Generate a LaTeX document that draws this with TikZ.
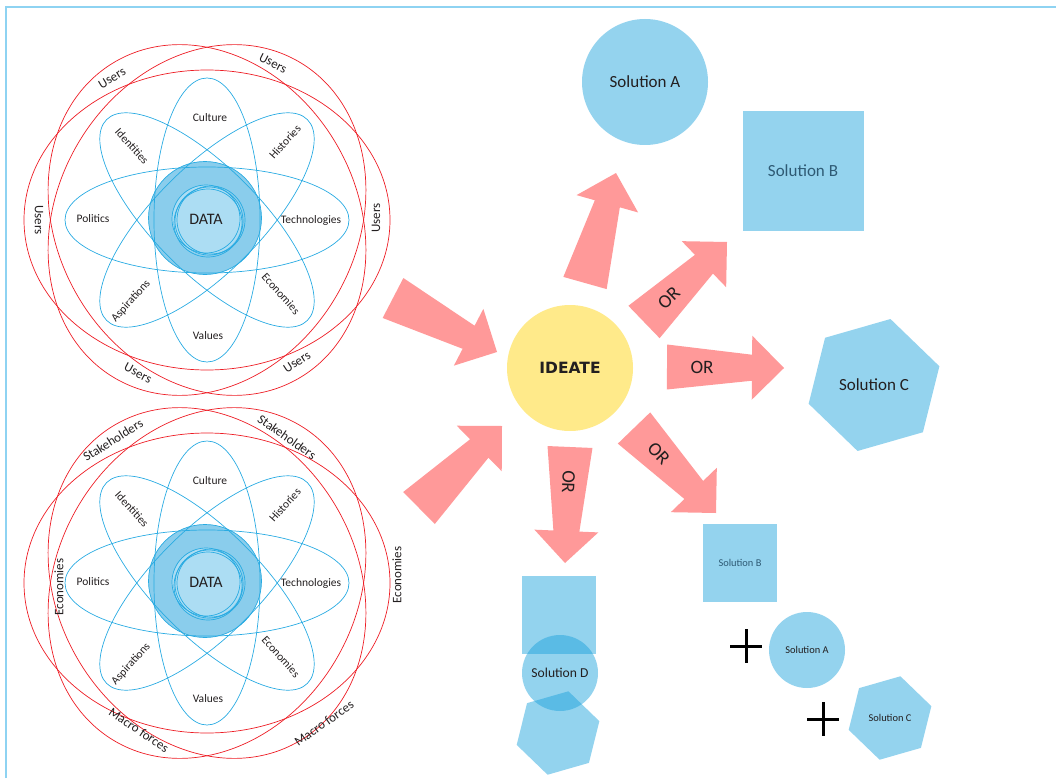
\documentclass[tikz,border=0pt]{standalone}
\usepackage{fontspec}
\setmainfont{Carlito}
\newfontfamily\ideatefont{DejaVu Sans}
\usetikzlibrary{calc,shapes.geometric}

\definecolor{ringred}{HTML}{ED1C24}
\definecolor{petalblue}{HTML}{29ABE2}
\definecolor{diskblue}{HTML}{8ACDEC}
\definecolor{coreblue}{HTML}{ACDDF3}
\definecolor{solblue}{HTML}{94D3EE}
\definecolor{mixblue}{HTML}{1AA1DB}
\definecolor{soltext}{HTML}{2E5A74}
\definecolor{arrowpink}{HTML}{FF9999}
\definecolor{ideateyellow}{HTML}{FFEA8A}
\definecolor{frameblue}{HTML}{8ED3F2}
\definecolor{inkblack}{HTML}{231F20}

\tikzset{
  frame/.style={draw=frameblue, line width=2pt},
  ring/.style={draw=ringred, line width=0.7pt},
  petal/.style={draw=petalblue, line width=0.7pt},
  ringlbl/.style={font=\fontsize{13}{15}\selectfont, text=inkblack, inner sep=0pt},
  petallbl/.style={font=\fontsize{11.5}{13}\selectfont, text=inkblack, inner sep=0pt},
  datadisk/.style={circle, fill=diskblue, draw=petalblue, line width=0.7pt, minimum size=113pt, inner sep=0pt},
  datalbl/.style={font=\fontsize{16}{18}\selectfont, text=inkblack},
  ideate/.style={circle, fill=ideateyellow, minimum size=126pt, inner sep=0pt, font=\ideatefont\bfseries\fontsize{15.5}{18}\selectfont, text=inkblack},
  arrowfill/.style={fill=arrowpink},
  orlbl/.style={font=\fontsize{19}{21}\selectfont, text=inkblack, inner sep=0pt},
  solcirc/.style={circle, fill=solblue, inner sep=0pt, outer sep=0pt, text=inkblack},
  solsq/.style={rectangle, fill=solblue, inner sep=0pt, outer sep=0pt},
  solhex/.style={regular polygon, regular polygon sides=6, regular polygon rotate=16, fill=solblue, inner sep=0pt, outer sep=0pt, text=inkblack},
  mixed/.style={fill=mixblue, fill opacity=0.47, text opacity=1},
  bigtxt/.style={font=\fontsize{17}{19}\selectfont},
  smalltxt/.style={font=\fontsize{10.4}{12}\selectfont},
  plussign/.style={draw=black, line width=3pt},
}

\newcommand{\blockarrow}[2]{%
  \coordinate (hb) at ($(#2)!32pt!(#1)$);
  \fill[arrowfill] ($(#1)!22.5pt!90:(#2)$) -- ($(hb)!13pt!90:(#2)$) -- ($(hb)!32pt!90:(#2)$) -- (#2)
    -- ($(hb)!32pt!-90:(#2)$) -- ($(hb)!13pt!-90:(#2)$) -- ($(#1)!22.5pt!-90:(#2)$) -- cycle;}

\begin{document}
\begin{tikzpicture}[x=1pt,y=-1pt]
\useasboundingbox (0,0) rectangle (1056,778);
\draw[frame] (6,778) -- (6,7) -- (1056,7);

\foreach \cy/\k in {219/1,582/2}{
  \begin{scope}[shift={(206,\cy)}]
    \node[datadisk] (data\k) at (-1,-1) {};
    \fill[coreblue] (1,1) circle [radius=35pt];
    \foreach \dx/\dy in {0/0,3/2,5/1,2/4}
      \draw[petal] (\dx,\dy) circle [radius=34pt];
    \foreach \a in {0,45,90,135}
      \draw[petal, rotate around={\a:(1,1)}] (1,1) ellipse [x radius=142pt, y radius=53pt];
    \foreach \a in {0,60,120}
      \draw[ring, rotate around={\a:(1,1)}] (1,1) ellipse [x radius=183pt, y radius=150pt];
    \node[datalbl] (datatxt\k) at (0,0) {DATA};
    \foreach \x/\y/\r/\t in {4/-101/0/Culture, -74/-73/-48/Identities, 79/-77/48/Histories,
        -113/0/0/Politics, 105/1/0/Technologies, -75/82/48/Aspirations, 75/75/-48/Economies, 2/117/0/Values}
      \node[petallbl, rotate=\r] (\t\k) at (\x,\y) {\t};
  \end{scope}}

\node[ringlbl, rotate=31] (users1) at (112,78) {Users};
\node[ringlbl, rotate=-27] (users2) at (273,63) {Users};
\node[ringlbl, rotate=-90] (users3) at (39,220) {Users};
\node[ringlbl, rotate=90] (users4) at (376,218) {Users};
\node[ringlbl, rotate=-28] (users5) at (138,373) {Users};
\node[ringlbl, rotate=33] (users6) at (297,362) {Users};

\node[ringlbl, rotate=32] (stake1) at (113,440) {Stakeholders};
\node[ringlbl, rotate=-35] (stake2) at (287,437) {Stakeholders};
\node[ringlbl, rotate=90] (econ1) at (59,587) {Economies};
\node[ringlbl, rotate=90] (econ2) at (397,575) {Economies};
\node[ringlbl, rotate=-34] (macro1) at (139,730) {Macro forces};
\node[ringlbl, rotate=35] (macro2) at (324,723) {Macro forces};

\node[ideate] (ideate) at (570,368) {IDEATE};

\node[solcirc, bigtxt, minimum size=126pt] (solA) at (645,82) {Solution A};
\node[solsq, bigtxt, text=soltext, minimum width=121pt, minimum height=120pt] (solB) at (803,171) {Solution B};
\node[solhex, bigtxt, minimum size=136pt] (solC) at (874,385) {Solution C};

\node[solsq, mixed, minimum width=74pt, minimum height=78pt] (solDsq) at (559,615) {};
\node[solcirc, mixed, font=\fontsize{13.6}{15}\selectfont, minimum size=76pt] (solD) at (560,673) {Solution D};
\node[solhex, mixed, minimum size=86pt] (solDhex) at (558,733) {};

\node[solsq, smalltxt, text=soltext, minimum width=74pt, minimum height=78pt] (solB2) at (740,563) {Solution B};
\node[solcirc, smalltxt, minimum size=76pt] (solA2) at (807,650) {Solution A};
\node[solhex, smalltxt, minimum size=86pt] (solC2) at (890,718) {Solution C};
\draw[plussign] (730,646) -- (762,646) (746,629) -- (746,663);
\draw[plussign] (807,719) -- (839,719) (823,702) -- (823,736);

\coordinate (t1) at (393,298); \coordinate (p1) at (497,352);
\coordinate (t2) at (419,508); \coordinate (p2) at (502,426);
\coordinate (t3) at (585,283); \coordinate (p3) at (616,173);
\coordinate (t4) at (644,322); \coordinate (p4) at (727,242);
\coordinate (t5) at (667,367); \coordinate (p5) at (784,368);
\coordinate (t6) at (634,428); \coordinate (p6) at (716,513);
\coordinate (t7) at (570,447); \coordinate (p7) at (565,563);
\foreach \n in {1,...,7}
  \blockarrow{t\n}{p\n};
\foreach \n in {4,...,7}
  \path (t\n) -- (p\n) node[orlbl, pos=0.3, sloped, allow upside down] (or\n) {OR};
\end{tikzpicture}
\end{document}
